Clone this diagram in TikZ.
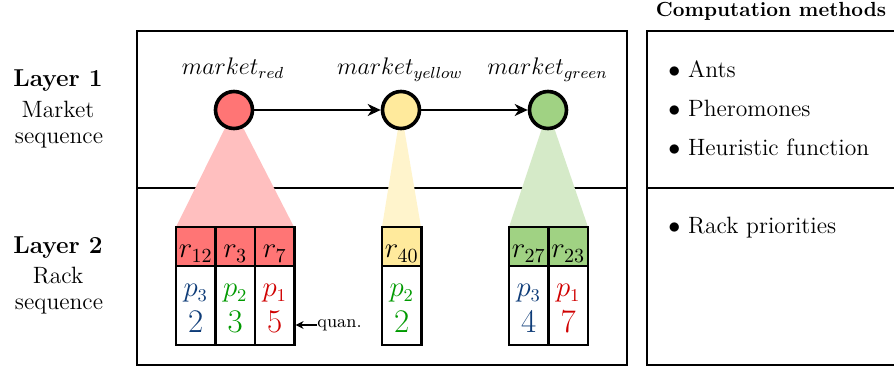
\documentclass[tikz,border=0pt]{standalone}
\usetikzlibrary{arrows.meta}
\definecolor{redfill}{HTML}{FF7575}
\definecolor{redcone}{HTML}{FFBFBF}
\definecolor{yelfill}{HTML}{FFEA9C}
\definecolor{yelcone}{HTML}{FFF4CC}
\definecolor{grnfill}{HTML}{A0D283}
\definecolor{grncone}{HTML}{D5EAC8}
\definecolor{pblue}{HTML}{0E3C78}
\definecolor{pgreen}{HTML}{009A00}
\definecolor{pred}{HTML}{D00000}
\tikzset{
  frame/.style={line width=1.1pt},
  market/.style={circle, draw, line width=1.8pt, minimum size=18.5pt, inner sep=0pt},
  mlabel/.style={anchor=base, inner sep=0pt, font=\fontsize{12}{14}\selectfont},
  head/.style={rectangle, draw, line width=1.1pt, minimum width=19.75pt, minimum height=19.5pt, inner sep=0pt},
  body/.style={rectangle, draw, line width=1.1pt, minimum width=19.75pt, minimum height=39.5pt, inner sep=0pt, fill=white},
  rtxt/.style={anchor=base, inner sep=0pt, font=\fontsize{14}{16}\selectfont},
  ptxt/.style={anchor=base, inner sep=0pt, font=\fontsize{13.5}{16}\selectfont},
  ntxt/.style={anchor=base, inner sep=0pt, font=\fontsize{16.5}{19}\selectfont},
  side/.style={anchor=base, inner sep=0pt, font=\fontsize{11.8}{14}\selectfont},
  item/.style={anchor=base west, inner sep=0pt, font=\fontsize{11.8}{14}\selectfont},
  seqarrow/.style={line width=1pt, -{Stealth[length=6.5pt,width=6pt,inset=2pt]}},
}
\begin{document}
\begin{tikzpicture}[x=0.5pt,y=-0.5pt]
\useasboundingbox (0,0) rectangle (894,368);
\clip (0,0) rectangle (894,368);

% frames of the two panels
\draw[frame] (137,31) rectangle (627,365);
\draw[frame] (137,188) -- (627,188);
\draw[frame] (900,31) -- (647,31) -- (647,365) -- (900,365);
\draw[frame] (647,188) -- (900,188);

% left captions
\node[side, font=\fontsize{12.2}{14}\selectfont\bfseries] (l1) at (58,86.7) {Layer 1};
\node[side] (l1a) at (58,118) {Market};
\node[side] (l1b) at (59,144) {sequence};
\node[side, font=\fontsize{12.2}{14}\selectfont\bfseries] (l2) at (58,254) {Layer 2};
\node[side] (l2a) at (58,284) {Rack};
\node[side] (l2b) at (59,310) {sequence};

% right panel
\node[side, font=\fontsize{10.2}{12}\selectfont\bfseries] (cm) at (771,16.7) {Computation methods};
\node[item] (i1) at (668,77.7) {$\bullet$ Ants};
\node[item] (i2) at (668,116.7) {$\bullet$ Pheromones};
\node[item] (i3) at (668,156) {$\bullet$ Heuristic function};
\node[item] (i4) at (668,234) {$\bullet$ Rack priorities};

% projection cones
\fill[redcone] (234,110) -- (176,227) -- (294,227) -- cycle;
\fill[yelcone] (401,110) -- (382,227) -- (421,227) -- cycle;
\fill[grncone] (548,110) -- (509,227) -- (588,227) -- cycle;

% market sequence
\node[market, fill=redfill] (mr) at (234,110) {};
\node[market, fill=yelfill] (my) at (401,110) {};
\node[market, fill=grnfill] (mg) at (548,110) {};
\node[mlabel] (lr) at (233,75) {$market_{red}$};
\node[mlabel] (ly) at (400,75) {$market_{yellow}$};
\node[mlabel] (lg) at (547.5,75) {$market_{green}$};
\draw[seqarrow] (mr) -- (my);
\draw[seqarrow] (my) -- (mg);

% racks of the red market
\node[head, fill=redfill] (h1) at (195.75,246.5) {};
\node[head, fill=redfill] (h2) at (235.25,246.5) {};
\node[head, fill=redfill] (h3) at (274.75,246.5) {};
\node[body] (b1) at (195.75,305.5) {};
\node[body] (b2) at (235.25,305.5) {};
\node[body] (b3) at (274.75,305.5) {};
\node[rtxt] (t1) at (195.75,258) {$r_{12}$};
\node[rtxt] (t2) at (235.25,258) {$r_{3}$};
\node[rtxt] (t3) at (274.75,258) {$r_{7}$};
\node[ptxt, text=pblue] (p1) at (195.75,297) {$p_3$};
\node[ptxt, text=pgreen] (p2) at (235.25,297) {$p_2$};
\node[ptxt, text=pred] (p3) at (274.75,297) {$p_1$};
\node[ntxt, text=pblue] (n1) at (195.75,333) {2};
\node[ntxt, text=pgreen] (n2) at (235.25,333) {3};
\node[ntxt, text=pred] (n3) at (274.75,333) {5};

% quantity annotation
\node[anchor=west, inner sep=0pt, font=\fontsize{8.9}{10}\selectfont] (quan) at (317,325) {quan.};
\draw[line width=0.8pt, -{Stealth[length=4pt,width=4pt]}] (quan.west) -- (b3.east |- quan.west);

% rack of the yellow market
\node[head, fill=yelfill] (h4) at (401.75,246.5) {};
\node[body] (b4) at (401.75,305.5) {};
\node[rtxt] (t4) at (401.75,258) {$r_{40}$};
\node[ptxt, text=pgreen] (p4) at (401.75,297) {$p_2$};
\node[ntxt, text=pgreen] (n4) at (401.75,333) {2};

% racks of the green market
\node[head, fill=grnfill] (h5) at (528.75,246.5) {};
\node[head, fill=grnfill] (h6) at (568.25,246.5) {};
\node[body] (b5) at (528.75,305.5) {};
\node[body] (b6) at (568.25,305.5) {};
\node[rtxt] (t5) at (528.75,258) {$r_{27}$};
\node[rtxt] (t6) at (568.25,258) {$r_{23}$};
\node[ptxt, text=pblue] (p5) at (528.75,297) {$p_3$};
\node[ptxt, text=pred] (p6) at (568.25,297) {$p_1$};
\node[ntxt, text=pblue] (n5) at (528.75,333) {4};
\node[ntxt, text=pred] (n6) at (568.25,333) {7};
\end{tikzpicture}
\end{document}
